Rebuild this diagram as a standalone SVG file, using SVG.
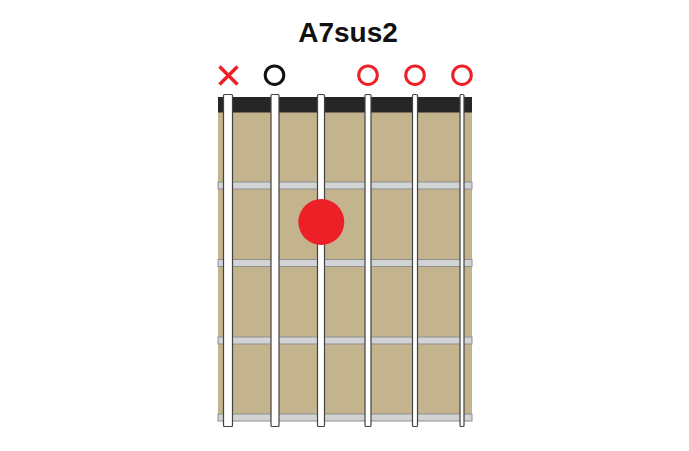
<svg xmlns="http://www.w3.org/2000/svg" width="689" height="451" viewBox="0 0 689 451">
<defs>
<style>
.title{font-family:"Liberation Sans",Arial,sans-serif;font-weight:bold;font-size:28px;fill:#111;}
.board{fill:#c4b48e;}
.nut{fill:#262626;}
.fret{fill:#d1d3d4;stroke:#8f8f8f;stroke-width:1;}
.str{fill:#fff;stroke:#444;stroke-width:1.2;}
.open{fill:none;stroke-width:3;}
.red{stroke:#ee2027;}
.blk{stroke:#111;}
.dot{fill:#ee2027;}
</style>
</defs>
<rect width="689" height="451" fill="#fff"/>
<text class="title" x="348" y="42" text-anchor="middle">A7sus2</text>
<g id="fretboard">
<rect class="board" x="218" y="97" width="254" height="324"/>
<rect class="nut" x="218" y="97" width="254" height="15.5"/>
<rect class="fret" x="218" y="182" width="254" height="7"/>
<rect class="fret" x="218" y="259.5" width="254" height="7"/>
<rect class="fret" x="218" y="337" width="254" height="7"/>
<rect class="fret" x="218" y="414" width="254" height="7"/>
</g>
<g id="strings">
<rect class="str" x="223.5" y="94.5" width="9" height="332" rx="1"/>
<rect class="str" x="271" y="94.5" width="8" height="332" rx="1"/>
<rect class="str" x="317.5" y="94.5" width="7" height="332" rx="1"/>
<rect class="str" x="365" y="94.5" width="6" height="332" rx="1"/>
<rect class="str" x="412.5" y="94.5" width="5" height="332" rx="1"/>
<rect class="str" x="460" y="94.5" width="4" height="332" rx="1"/>
</g>
<g id="markers">
<g id="mute-6">
<path d="M219.5 66.5 L237.5 84.5 M237.5 66.5 L219.5 84.5" stroke="#ee2027" stroke-width="3.5" fill="none"/>
</g>
<circle id="open-5" class="open blk" cx="274.5" cy="75.2" r="9.3"/>
<circle id="open-3" class="open red" cx="368" cy="75.2" r="9.3"/>
<circle id="open-2" class="open red" cx="415" cy="75.2" r="9.3"/>
<circle id="open-1" class="open red" cx="462" cy="75.2" r="9.3"/>
</g>
<g id="finger-dot">
<circle class="dot" cx="321.3" cy="222" r="23"/>
</g>
</svg>
